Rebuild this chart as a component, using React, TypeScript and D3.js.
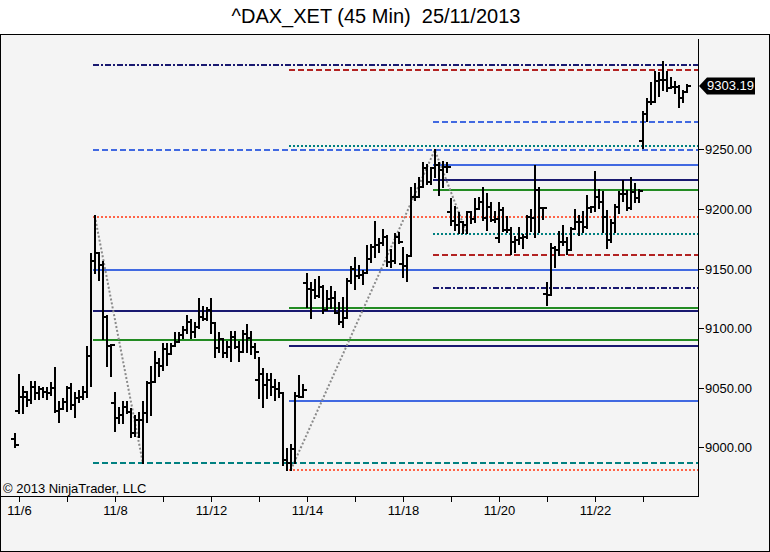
import React from "react";
import * as d3 from "d3";

// 45-minute bars, 11/5 (last bar) through 11/25/2013
const opens = [
  9006.6, 9030.7, 9042.4, 9042.4, 9039.6, 9050.8, 9045.2, 9048.6, 9046.6, 9045.8,
  9049.4, 9030.7, 9031.8, 9038.2, 9049.4, 9035.4, 9041.0, 9041.9, 9046.6, 9076.5,
  9156.5, 9162.7, 9152.9, 9109.5, 9085.2, 9036.8, 9024.3, 9027.1, 9034.0, 9029.8,
  9011.7, 9022.9, 9022.9, 9028.4, 9054.2, 9055.0, 9070.4, 9068.2, 9082.1, 9078.2,
  9084.9, 9088.6, 9094.2, 9098.4, 9105.3, 9097.0, 9101.2, 9109.5, 9107.5, 9115.1,
  9103.9, 9083.0, 9090.5, 9078.8, 9084.4, 9092.8, 9084.4, 9080.2, 9095.0, 9091.4,
  9084.4, 9056.5, 9061.5, 9052.3, 9056.5, 9050.3, 9048.6, 9045.3, 8989.0, 8987.0,
  8998.6, 9043.0, 9042.5, 9137.6, 9132.5, 9132.0, 9127.0, 9134.8, 9115.0, 9124.1,
  9125.0, 9113.0, 9105.4, 9108.2, 9139.8, 9150.0, 9143.7, 9144.5, 9146.5, 9158.0,
  9168.0, 9169.7, 9171.0, 9176.7, 9155.7, 9156.5, 9176.1, 9153.8, 9152.0, 9160.5,
  9210.0, 9210.3, 9218.1, 9234.0, 9222.8, 9234.0, 9236.8, 9232.6, 9235.4, 9197.1,
  9190.0, 9186.5, 9189.3, 9186.5, 9197.1, 9191.5, 9200.0, 9206.1, 9192.0, 9201.9,
  9190.7, 9175.3, 9199.0, 9182.3, 9182.3, 9172.0, 9173.9, 9175.9, 9176.7, 9193.5,
  9192.0, 9215.9, 9200.5, 9128.3, 9128.0, 9166.9, 9165.5, 9172.5, 9172.5, 9165.5,
  9183.1, 9189.3, 9189.3, 9185.1, 9201.0, 9201.9, 9210.0, 9206.1, 9193.5, 9173.9,
  9187.9, 9201.9, 9212.2, 9212.2, 9200.5, 9214.5, 9208.9, 9257.0, 9280.0, 9289.4,
  9290.0, 9307.3, 9308.1, 9308.1, 9301.7, 9302.5, 9302.5, 9293.3, 9297.8,
];
const highs = [
  9010.8, 9060.6, 9050.3, 9046.6, 9055.0, 9055.0, 9050.3, 9049.4, 9049.4, 9053.6,
  9066.2, 9038.2, 9040.2, 9050.3, 9053.1, 9045.2, 9047.5, 9050.8, 9084.4, 9162.1,
  9194.0, 9162.7, 9155.7, 9110.1, 9085.8, 9045.2, 9032.6, 9038.0, 9038.0, 9031.8,
  9026.2, 9028.4, 9038.0, 9055.0, 9067.0, 9079.6, 9073.7, 9086.6, 9086.6, 9086.6,
  9095.6, 9095.6, 9100.6, 9110.1, 9106.7, 9103.9, 9124.4, 9117.4, 9116.5, 9124.4,
  9104.5, 9095.6, 9090.5, 9088.6, 9097.0, 9097.0, 9088.6, 9097.5, 9102.5, 9097.0,
  9086.6, 9074.6, 9065.4, 9061.5, 9061.5, 9056.5, 9054.3, 9045.3, 8998.3, 9001.9,
  9045.8, 9059.8, 9052.3, 9145.4, 9138.1, 9140.4, 9142.6, 9135.3, 9131.4, 9134.2,
  9130.6, 9120.8, 9125.0, 9140.9, 9151.0, 9158.5, 9152.1, 9148.2, 9168.9, 9169.7,
  9189.3, 9174.5, 9182.3, 9177.3, 9165.5, 9178.9, 9179.5, 9166.9, 9161.3, 9217.2,
  9220.9, 9225.6, 9238.8, 9236.8, 9234.0, 9249.4, 9238.2, 9239.0, 9238.8, 9208.3,
  9201.9, 9196.3, 9189.3, 9197.7, 9197.7, 9208.3, 9209.4, 9217.2, 9212.2, 9204.7,
  9197.1, 9204.7, 9200.5, 9193.5, 9183.7, 9176.7, 9183.7, 9178.1, 9194.3, 9199.1,
  9236.3, 9217.8, 9201.0, 9137.6, 9170.3, 9168.3, 9180.9, 9185.9, 9175.3, 9183.7,
  9199.1, 9194.3, 9197.7, 9211.1, 9201.9, 9230.7, 9215.8, 9214.5, 9198.2, 9190.7,
  9203.3, 9213.9, 9223.4, 9215.0, 9225.6, 9220.6, 9215.8, 9281.0, 9292.2, 9305.3,
  9315.1, 9313.7, 9322.9, 9315.1, 9310.1, 9306.7, 9303.4, 9298.9, 9303.9,
];
const lows = [
  9000.5, 9028.4, 9028.4, 9034.6, 9036.8, 9040.2, 9040.2, 9042.4, 9040.8, 9043.8,
  9029.6, 9021.5, 9031.8, 9030.7, 9031.8, 9025.6, 9038.2, 9040.2, 9042.4, 9051.7,
  9145.9, 9140.3, 9090.5, 9068.4, 9060.0, 9013.9, 9020.6, 9020.6, 9028.4, 9008.3,
  9009.4, 9008.9, 8987.1, 9021.5, 9027.1, 9055.0, 9059.8, 9064.8, 9069.0, 9078.2,
  9084.9, 9088.6, 9091.4, 9095.6, 9091.4, 9092.8, 9099.8, 9106.7, 9106.7, 9096.1,
  9075.4, 9080.2, 9075.8, 9075.4, 9072.6, 9083.0, 9072.6, 9080.2, 9080.2, 9078.2,
  9074.6, 9041.1, 9034.1, 9041.1, 9043.9, 9039.7, 9042.5, 8985.2, 8981.0, 8981.0,
  8986.6, 9041.9, 9042.5, 9118.0, 9108.2, 9125.0, 9126.4, 9113.0, 9115.0, 9116.6,
  9112.4, 9103.4, 9100.6, 9108.2, 9138.1, 9132.5, 9141.7, 9136.7, 9146.5, 9155.7,
  9159.9, 9164.1, 9169.7, 9152.1, 9151.5, 9154.9, 9171.1, 9143.1, 9139.8, 9160.5,
  9207.5, 9209.7, 9218.1, 9220.9, 9220.9, 9227.0, 9211.7, 9218.6, 9231.2, 9186.5,
  9182.3, 9179.5, 9179.5, 9179.5, 9187.9, 9189.3, 9199.9, 9190.7, 9182.3, 9189.9,
  9189.3, 9172.0, 9181.5, 9180.9, 9161.9, 9164.1, 9170.3, 9167.5, 9175.3, 9181.5,
  9176.7, 9180.9, 9191.5, 9119.4, 9128.0, 9151.5, 9161.3, 9169.7, 9161.9, 9165.5,
  9183.1, 9178.1, 9180.3, 9183.7, 9197.1, 9198.2, 9201.0, 9180.9, 9167.5, 9171.9,
  9180.3, 9196.3, 9206.6, 9199.1, 9199.9, 9206.1, 9205.5, 9251.4, 9273.7, 9287.7,
  9290.0, 9295.0, 9299.7, 9298.9, 9301.1, 9297.0, 9285.8, 9289.4, 9297.8,
];
const closes = [
  9001.9, 9042.4, 9046.6, 9039.6, 9050.8, 9045.2, 9048.6, 9046.6, 9045.8, 9049.4,
  9030.7, 9031.8, 9038.2, 9049.4, 9035.4, 9041.0, 9041.9, 9046.6, 9076.5, 9156.5,
  9162.7, 9152.9, 9109.5, 9085.2, 9085.8, 9024.3, 9027.1, 9034.0, 9029.8, 9011.7,
  9022.9, 9022.9, 9028.4, 9054.2, 9055.0, 9070.4, 9068.2, 9082.1, 9078.2, 9084.9,
  9088.6, 9094.2, 9098.4, 9105.3, 9097.0, 9101.2, 9109.5, 9107.5, 9115.1, 9103.9,
  9083.0, 9090.5, 9078.8, 9084.4, 9092.8, 9084.4, 9080.2, 9095.0, 9091.4, 9084.4,
  9080.2, 9061.5, 9052.3, 9056.5, 9050.3, 9048.6, 9045.3, 8989.0, 8987.0, 8998.6,
  9043.0, 9042.5, 9048.0, 9132.5, 9132.0, 9127.0, 9134.8, 9115.0, 9124.1, 9125.0,
  9113.0, 9105.4, 9108.2, 9139.8, 9150.0, 9143.7, 9144.5, 9146.5, 9158.0, 9168.0,
  9169.7, 9171.0, 9176.7, 9155.7, 9156.5, 9176.1, 9172.5, 9152.0, 9160.5, 9210.0,
  9210.3, 9218.1, 9234.0, 9222.8, 9234.0, 9236.8, 9232.6, 9235.4, 9234.8, 9190.0,
  9186.5, 9189.3, 9186.5, 9197.1, 9191.5, 9200.0, 9206.1, 9192.0, 9201.9, 9190.7,
  9191.5, 9199.0, 9182.3, 9182.3, 9172.0, 9173.9, 9175.9, 9176.7, 9193.5, 9192.0,
  9215.9, 9200.5, 9200.5, 9128.0, 9166.9, 9165.5, 9172.5, 9172.5, 9165.5, 9183.1,
  9189.3, 9189.3, 9185.1, 9201.0, 9201.9, 9210.0, 9206.1, 9193.5, 9173.9, 9187.9,
  9201.9, 9212.2, 9212.2, 9200.5, 9214.5, 9208.9, 9215.0, 9280.0, 9289.4, 9290.0,
  9307.3, 9308.1, 9308.1, 9301.7, 9302.5, 9302.5, 9293.3, 9297.8, 9303.19,
];

const dayLabels = [
  "11/6", "11/7", "11/8", "11/11", "11/12", "11/13", "11/14",
  "11/15", "11/18", "11/19", "11/20", "11/21", "11/22", "11/25",
];
const barsPerDay = 12;
const firstDayBar = 1;

const priceTicks = [9000, 9050, 9100, 9150, 9200, 9250];
const lastPrice = 9303.19;

// horizontal levels: value and the pivot bar they start from
const levelValues = [
  9321.0, 9316.8, 9273.2, 9252.8, 9249.7, 9236.8, 9224.5, 9216.1, 9193.5, 9179.2,
  9161.6, 9148.7, 9133.6, 9117.1, 9114.6, 9090.3, 9085.2, 9039.1, 8987.1, 8981.2,
];
const levelStart = [20, 69, 105, 69, 20, 105, 105, 105, 20, 105, 105, 20, 105, 69, 20, 20, 69, 69, 20, 69];
const levelKind = [
  "navyDashDot", "redDash", "blueDash", "tealDot", "blueDash", "blue", "navy", "green", "tomatoDot", "tealDot",
  "redDash", "blue", "navyDashDot", "green", "navy", "green", "navy", "blue", "tealDash", "tomatoDot",
];

// zigzag pivots: [bar index, price]
const zigzagA = [[20, 9194.0], [32, 8987.1]];
const zigzagB = [[69, 8981.0], [105, 9249.4], [113, 9179.5]];

const styles: Record<string, { color: string; dash?: string }> = {
  navyDashDot: { color: "#191970", dash: "6,2,2,2" },
  redDash: { color: "#b22222", dash: "6,3" },
  blueDash: { color: "#4169e1", dash: "6,3" },
  tealDot: { color: "#008080", dash: "2,2" },
  tealDash: { color: "#008080", dash: "6,3" },
  tomatoDot: { color: "#ff6347", dash: "2,2" },
  blue: { color: "#4169e1" },
  navy: { color: "#191970" },
  green: { color: "#228b22" },
};

const FONT = "'Liberation Sans', Arial, sans-serif";

export default function App() {
  const W = 770;
  const H = 552;
  const plotRight = 698;
  const plotBottom = 496;

  const x = d3.scaleLinear().domain([0, opens.length - 1]).range([14.8, 686.8]);
  const y = d3.scaleLinear().domain([9000, 9250]).range([447.3, 149.3]);

  const zz = d3
    .line<number[]>()
    .x((d) => x(d[0]))
    .y((d) => y(d[1]));

  const bars = opens.map((o, i) => {
    const c = closes[i];
    const hi = Math.max(highs[i], o, c);
    const lo = Math.min(lows[i], o, c);
    return { i, o, c, hi, lo };
  });

  const ly = y(lastPrice);

  return (
    <svg
      width={W}
      height={H}
      style={{ position: "absolute", left: 0, top: 0, background: "#ffffff" }}
      fontFamily={FONT}
    >
      <text x={376} y={23} textAnchor="middle" fontSize={20} fill="#000" style={{ whiteSpace: "pre" }}>
        {"^DAX_XET (45 Min)  25/11/2013"}
      </text>
      <rect x={0.5} y={34.5} width={769} height={517} fill="#f4f4f4" stroke="#000" />

      {/* levels */}
      <g shapeRendering="crispEdges">
        {levelValues.map((v, k) => {
          const s = styles[levelKind[k]];
          const yy = Math.round(y(v));
          return (
            <line
              key={"lv" + k}
              x1={x(levelStart[k]) - 2}
              x2={plotRight}
              y1={yy}
              y2={yy}
              stroke={s.color}
              strokeWidth={2}
              strokeDasharray={s.dash}
            />
          );
        })}
      </g>

      {/* zigzag */}
      {[zigzagA, zigzagB].map((pts, k) => (
        <path key={"zz" + k} d={zz(pts) || ""} fill="none" stroke="#8a8a8a" strokeWidth={2} strokeDasharray="2,2" />
      ))}

      {/* OHLC bars */}
      <g fill="#000" shapeRendering="crispEdges">
        {bars.map((b) => {
          const cx = Math.round(x(b.i));
          const yh = Math.round(y(b.hi));
          const yl = Math.round(y(b.lo));
          const yo = Math.round(y(b.o));
          const yc = Math.round(y(b.c));
          return (
            <g key={"b" + b.i}>
              <rect x={cx - 1} y={yh - 1} width={2} height={Math.max(2, yl - yh + 2)} />
              <rect x={cx - 4} y={yo - 1} width={3} height={2} />
              <rect x={cx + 1} y={yc - 1} width={3} height={2} />
            </g>
          );
        })}
      </g>

      {/* axes */}
      <g shapeRendering="crispEdges">
        <line x1={plotRight + 0.5} x2={plotRight + 0.5} y1={39} y2={plotBottom + 0.5} stroke="#000" />
        <line x1={0} x2={plotRight + 0.5} y1={plotBottom + 0.5} y2={plotBottom + 0.5} stroke="#000" />
      </g>
      {priceTicks.map((p) => {
        const yy = Math.round(y(p)) + 0.5;
        return (
          <g key={"pt" + p}>
            <line x1={plotRight} x2={plotRight + 6} y1={yy} y2={yy} stroke="#000" shapeRendering="crispEdges" />
            <text x={plotRight + 7} y={yy + 4.5} fontSize={13} fill="#000">
              {p.toFixed(2)}
            </text>
          </g>
        );
      })}
      {dayLabels.map((lab, d) => {
        const xx = Math.round(x(firstDayBar + d * barsPerDay)) + 0.5;
        return (
          <g key={"dt" + d}>
            <line x1={xx} x2={xx} y1={plotBottom} y2={plotBottom + 6} stroke="#000" shapeRendering="crispEdges" />
            {d % 2 === 0 && (
              <text x={xx} y={515} fontSize={13} textAnchor="middle" fill="#000">
                {lab}
              </text>
            )}
          </g>
        );
      })}

      {/* last price marker */}
      <path
        d={`M${plotRight + 1},${ly} L${plotRight + 9},${ly - 8.5} L${plotRight + 57},${ly - 8.5} L${plotRight + 57},${ly + 8.5} L${plotRight + 9},${ly + 8.5} Z`}
        fill="#000"
      />
      <text x={plotRight + 9} y={ly + 4.5} fontSize={13} fill="#fff">
        {lastPrice.toFixed(2)}
      </text>

      <text x={3} y={493} fontSize={13} fill="#000">
        © 2013 NinjaTrader, LLC
      </text>
    </svg>
  );
}
